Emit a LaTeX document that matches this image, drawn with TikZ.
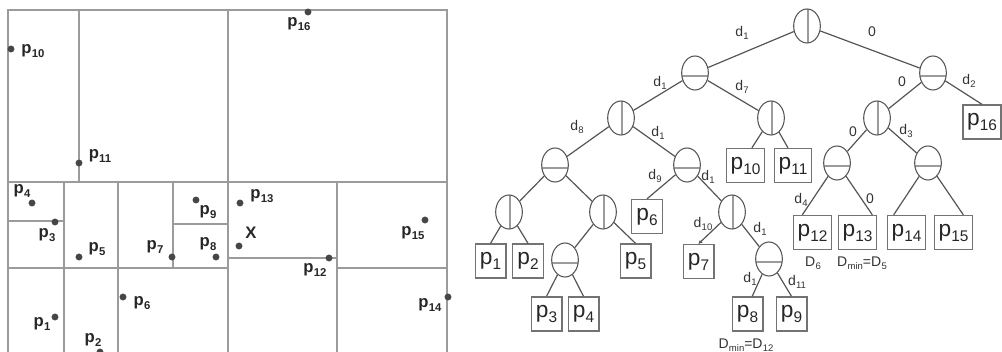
\documentclass[tikz,border=0pt]{standalone}
\usepackage{fontspec}
\usepackage{graphicx}
\setmainfont{Liberation Sans}
\definecolor{kdgrid}{RGB}{155,155,155}
\definecolor{kddot}{RGB}{70,70,70}
\definecolor{kdedge}{RGB}{85,85,85}
\definecolor{kdbox}{RGB}{115,115,115}
\usetikzlibrary{arrows.meta,shapes.geometric}
\newcommand{\ix}[2]{#1\kern0.2pt\raisebox{-0.22em}{\scalebox{0.68}{#2}}}

\begin{document}
\begin{tikzpicture}[x=0.75pt,y=-0.75pt,
  cellline/.style={draw=kdgrid,line width=1.5pt},
  pt/.style={circle,fill=kddot,inner sep=0pt,minimum size=5.2pt},
  ptlabel/.style={font=\fontsize{12.5}{12.5}\selectfont\bfseries,text=black!85,inner sep=0pt},
  vsplit/.style={ellipse,draw=kdedge,line width=0.8pt,minimum width=20pt,minimum height=25.5pt,inner sep=0pt,
    path picture={\draw[kdgrid,line width=1.4pt] ([xshift=1pt]path picture bounding box.north) -- ([xshift=1pt]path picture bounding box.south);}},
  hsplit/.style={ellipse,draw=kdedge,line width=0.8pt,minimum width=20pt,minimum height=25.5pt,inner sep=0pt,
    path picture={\draw[kdgrid,line width=1.4pt] ([yshift=-2pt]path picture bounding box.west) -- ([yshift=-2pt]path picture bounding box.east);}},
  leaf/.style={draw=kdbox,line width=1pt,minimum width=23pt,minimum height=25.5pt,inner xsep=3pt,font=\fontsize{17}{17}\selectfont,text=black!85},
  edge/.style={draw=kdedge,line width=0.9pt},
  dlabel/.style={font=\fontsize{10.5}{10.5}\selectfont,text=black!80,inner sep=0pt}]
  \useasboundingbox (0,0) rectangle (1002,352);
  % Partition of the plane
  \draw[cellline] (8,352) -- (8,10) -- (447,10) -- (447,352);
  \draw[cellline] (79,10) -- (79,182);
  \draw[cellline] (228,10) -- (228,352);
  \draw[cellline] (8,182) -- (447,182);
  \draw[cellline] (64,182) -- (64,352);
  \draw[cellline] (8,221) -- (64,221);
  \draw[cellline] (118,182) -- (118,352);
  \draw[cellline] (173,182) -- (173,268);
  \draw[cellline] (173,224) -- (228,224);
  \draw[cellline] (8,268) -- (228,268);
  \draw[cellline] (228,258) -- (337,258);
  \draw[cellline] (337,182) -- (337,352);
  \draw[cellline] (337,268) -- (447,268);
  % Points
  \node[pt] (q16) at (308,12) {};  \node[ptlabel] (t16) at (299,24) {\ix{p}{16}};
  \node[pt] (q10) at (11,49) {};   \node[ptlabel] (t10) at (33,51) {\ix{p}{10}};
  \node[pt] (q11) at (79,163) {};  \node[ptlabel] (t11) at (100,156) {\ix{p}{11}};
  \node[pt] (q4) at (32,203) {};   \node[ptlabel] (t4) at (22,191) {\ix{p}{4}};
  \node[pt] (q3) at (55,222) {};   \node[ptlabel] (t3) at (47,235) {\ix{p}{3}};
  \node[pt] (q5) at (79,257) {};   \node[ptlabel] (t5) at (97,249) {\ix{p}{5}};
  \node[pt] (q7) at (172,257) {};  \node[ptlabel] (t7) at (155,247) {\ix{p}{7}};
  \node[pt] (q8) at (216,257) {};  \node[ptlabel] (t8) at (208,244) {\ix{p}{8}};
  \node[pt] (q9) at (196,200) {};  \node[ptlabel] (t9) at (208,212) {\ix{p}{9}};
  \node[pt] (q13) at (240,203) {}; \node[ptlabel] (t13) at (262,196) {\ix{p}{13}};
  \node[pt] (qx) at (239,246) {};  \node[ptlabel] (tx) at (251,233) {X};
  \node[pt] (q12) at (329,258) {}; \node[ptlabel] (t12) at (315,270) {\ix{p}{12}};
  \node[pt] (q15) at (425,220) {}; \node[ptlabel] (t15) at (413,233) {\ix{p}{15}};
  \node[pt] (q14) at (448,297) {}; \node[ptlabel] (t14) at (430,305) {\ix{p}{14}};
  \node[pt] (q6) at (123,297) {};  \node[ptlabel] (t6) at (142,303) {\ix{p}{6}};
  \node[pt] (q1) at (55,317) {};   \node[ptlabel] (t1) at (42,324) {\ix{p}{1}};
  \node[pt] (q2) at (100,352) {};  \node[ptlabel] (t2) at (93,340) {\ix{p}{2}};
  % Tree: inner nodes
  \node[vsplit] (root) at (807,26) {};
  \node[hsplit] (a) at (695,73) {};
  \node[hsplit] (b) at (933,73) {};
  \node[vsplit] (aa) at (621,118) {};
  \node[vsplit] (ab) at (771,118) {};
  \node[vsplit] (ba) at (877,118) {};
  \node[hsplit] (aaa) at (555,165) {};
  \node[hsplit] (aab) at (687,165) {};
  \node[hsplit] (baa) at (837,163) {};
  \node[hsplit] (bab) at (928,163) {};
  \node[vsplit] (aaaa) at (509,212) {};
  \node[vsplit] (aaab) at (603,212) {};
  \node[vsplit] (aabb) at (732,212) {};
  \node[hsplit] (aaaba) at (565,260) {};
  \node[hsplit] (aabba) at (769,259) {};
  % Tree: leaves
  \node[leaf] (p16) at (982,122) {\ix{p}{16}};
  \node[leaf] (p10) at (745.5,165.5) {\ix{p}{10}};
  \node[leaf] (p11) at (793,165.5) {\ix{p}{11}};
  \node[leaf] (p6) at (647,216.5) {\ix{p}{6}};
  \node[leaf] (p12) at (812.5,232.5) {\ix{p}{12}};
  \node[leaf] (p13) at (857.5,232.5) {\ix{p}{13}};
  \node[leaf] (p14) at (906.5,232.5) {\ix{p}{14}};
  \node[leaf] (p15) at (953.5,232.5) {\ix{p}{15}};
  \node[leaf] (p1) at (490.5,261) {\ix{p}{1}};
  \node[leaf] (p2) at (528,261) {\ix{p}{2}};
  \node[leaf] (p5) at (635.5,261) {\ix{p}{5}};
  \node[leaf] (p7) at (698.5,261.5) {\ix{p}{7}};
  \node[leaf] (p3) at (546.5,314) {\ix{p}{3}};
  \node[leaf] (p4) at (583.5,314) {\ix{p}{4}};
  \node[leaf] (p8) at (747.5,314) {\ix{p}{8}};
  \node[leaf] (p9) at (791.5,314) {\ix{p}{9}};
  % Tree: edges
  \draw[edge] (root) -- (a); \draw[edge] (root) -- (b);
  \draw[edge] (a) -- (aa); \draw[edge] (a) -- (ab);
  \draw[edge] (b) -- (ba); \draw[edge] (b) -- (p16.north);
  \draw[edge] (aa) -- (aaa); \draw[edge] (aa) -- (aab);
  \draw[edge] (ab) -- (p10.70); \draw[edge] (ab) -- (p11.106);
  \draw[edge] (ba) -- (baa); \draw[edge] (ba) -- (bab);
  \draw[edge] (aaa) -- (aaaa); \draw[edge] (aaa) -- (aaab);
  \draw[edge] (aab) -- (p6.north); \draw[edge] (aab) -- (aabb);
  \draw[edge] (baa) -- (p12.120); \draw[edge] (baa) -- (p13.50);
  \draw[edge] (bab) -- (p14.126); \draw[edge] (bab) -- (p15.61);
  \draw[edge] (aaaa) -- (p1.north); \draw[edge] (aaaa) -- (p2.north);
  \draw[edge] (aaab) -- (aaaba); \draw[edge] (aaab) -- (p5.north);
  \draw[edge,-{Stealth[length=3pt,width=3pt]}] (aabb) -- (p7.north); \draw[edge] (aabb) -- (aabba);
  \draw[edge] (aaaba) -- (p3.north); \draw[edge] (aaaba) -- (p4.north);
  \draw[edge] (aabba) -- (p8.75); \draw[edge] (aabba) -- (p9.north);
  % Edge labels
  \node[dlabel] (e1) at (742,33) {\ix{d}{1}};
  \node[dlabel] (e2) at (872,32) {0};
  \node[dlabel] (e3) at (660,83) {\ix{d}{1}};
  \node[dlabel] (e4) at (742,87) {\ix{d}{7}};
  \node[dlabel] (e5) at (902,82) {0};
  \node[dlabel] (e6) at (969,81) {\ix{d}{2}};
  \node[dlabel] (e7) at (577,127) {\ix{d}{8}};
  \node[dlabel] (e8) at (658,133) {\ix{d}{1}};
  \node[dlabel] (e9) at (853,132) {0};
  \node[dlabel] (e10) at (906,131) {\ix{d}{3}};
  \node[dlabel] (e11) at (655,176) {\ix{d}{9}};
  \node[dlabel] (e12) at (708,177) {\ix{d}{1}};
  \node[dlabel] (e13) at (801,200) {\ix{d}{4}};
  \node[dlabel] (e14) at (870,199) {0};
  \node[dlabel] (e15) at (703,224) {\ix{d}{10}};
  \node[dlabel] (e16) at (760,229) {\ix{d}{1}};
  \node[dlabel] (e17) at (750,279) {\ix{d}{1}};
  \node[dlabel] (e18) at (797,282) {\ix{d}{11}};
  % Distances
  \node[dlabel] (dd6) at (813,263) {\ix{D}{6}};
  \node[dlabel] (dd5) at (862,263) {\ix{D}{min}=\ix{D}{5}};
  \node[dlabel] (dd12) at (746,345) {\ix{D}{min}=\ix{D}{12}};
\end{tikzpicture}
\end{document}
